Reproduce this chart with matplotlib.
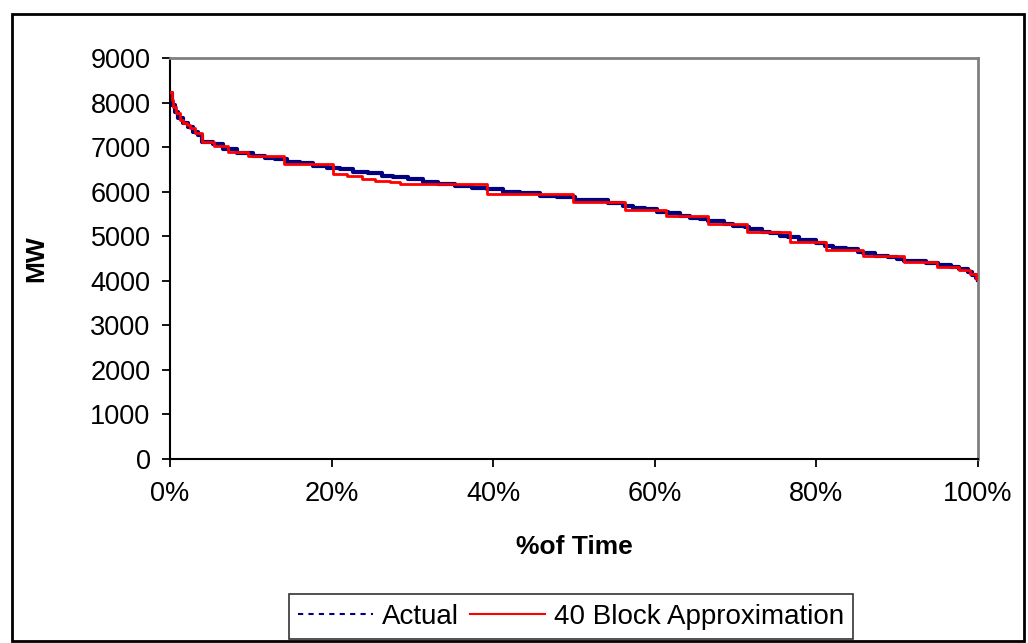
import matplotlib
matplotlib.use("Agg")
import matplotlib.pyplot as plt
from matplotlib.lines import Line2D
from matplotlib.patches import Rectangle
from matplotlib.ticker import FuncFormatter

plt.rcParams.update({
    "font.family": ["Liberation Sans", "DejaVu Sans"],
    "font.size": 19.5,
})

# Actual load duration curve: (start of step in % of time, MW)
actual_pct = [0.0, 0.21, 0.62, 1.03, 1.65, 2.27, 2.88, 3.5, 3.92, 5.36, 6.6, 8.26,
              10.3, 11.76, 13.0, 14.5, 16.1, 17.7, 19.4, 21.0, 22.7, 24.5, 26.2,
              27.6, 29.5, 31.3, 33.2, 35.3, 37.4, 39.2, 41.2, 43.3, 45.8, 47.9,
              50.1, 54.2, 56.0, 57.3, 58.8, 60.3, 61.6, 63.1, 64.4, 65.6, 66.6,
              68.5, 69.7, 71.2, 71.6, 73.3, 74.3, 75.5, 76.5, 77.8, 79.9, 81.1,
              82.1, 83.6, 85.1, 85.8, 87.3, 88.9, 90.0, 90.8, 93.5, 95.0, 96.6,
              97.6, 98.7, 99.3, 99.7, 100.0]
actual_mw = [8213, 7950, 7800, 7651, 7552, 7462, 7350, 7276, 7125, 7066, 6961, 6877,
             6803, 6765, 6729, 6675, 6639, 6585, 6540, 6504, 6450, 6414, 6360,
             6324, 6279, 6225, 6174, 6135, 6090, 6054, 6000, 5964, 5910, 5874,
             5806, 5739, 5685, 5640, 5604, 5550, 5515, 5461, 5416, 5380, 5342,
             5274, 5236, 5202, 5155, 5101, 5065, 5011, 4975, 4914, 4853, 4786,
             4741, 4705, 4651, 4615, 4561, 4525, 4480, 4448, 4390, 4352, 4300,
             4255, 4201, 4127, 4053, 4010]

# Block approximation: (start of block in % of time, MW)
block_pct = [0.0, 0.2, 0.4, 0.8, 1.2, 1.65, 2.1, 2.5, 3.1, 3.9, 5.4, 7.2, 9.7,
             14.1, 20.2, 21.9, 23.8, 25.4, 27.2, 28.5, 39.2, 49.9, 56.3, 61.4,
             66.6, 71.4, 76.7, 81.2, 85.8, 90.8, 94.9, 97.6, 99.0, 99.7, 100.0]
block_mw = [8249, 8063, 7912, 7764, 7613, 7539, 7500, 7426, 7314, 7125, 7028, 6900,
            6803, 6623, 6398, 6353, 6293, 6248, 6212, 6174, 5949, 5762, 5589, 5454,
            5274, 5101, 4862, 4689, 4561, 4419, 4314, 4239, 4149, 4030, 4030]

fig = plt.figure(figsize=(10.28, 6.43), dpi=100)
ax = fig.add_axes([0.1654, 0.2869, 0.7860, 0.6224])

ax.step(actual_pct, actual_mw, where="post", color="#000080", lw=3.0, zorder=2)
ax.step(block_pct, block_mw, where="post", color="#FF0000", lw=2.0, zorder=3)

ax.set_xlim(0, 100)
ax.set_ylim(0, 9000)
ax.set_xticks(range(0, 101, 20))
ax.set_yticks(range(0, 9001, 1000))
ax.xaxis.set_major_formatter(FuncFormatter(lambda v, p: f"{v:.0f}%"))
ax.tick_params(direction="out", length=6, width=1.3, color="black", labelsize=19.5)
ax.tick_params(axis="x", pad=10)
ax.tick_params(axis="y", pad=8)

for side in ("top", "right"):
    ax.spines[side].set_color("#808080")
    ax.spines[side].set_linewidth(2)
for side in ("left", "bottom"):
    ax.spines[side].set_color("black")
    ax.spines[side].set_linewidth(1.5)

ax.set_xlabel("%of Time", fontsize=19, fontweight="bold", labelpad=20)
ax.set_ylabel("MW", fontsize=19, fontweight="bold", labelpad=30)

handles = [
    Line2D([], [], color="#000080", lw=1.5, linestyle=(0, (2.5, 2.5))),
    Line2D([], [], color="#FF0000", lw=1.5),
]
leg = fig.legend(handles, ["Actual", "40 Block Approximation"],
                 loc="upper center", bbox_to_anchor=(0.5555, 0.0762),
                 ncol=2, frameon=True, fancybox=False, fontsize=20,
                 handlelength=2.7, handletextpad=0.29, columnspacing=0.43,
                 borderpad=0.35, borderaxespad=0)
leg.get_frame().set_edgecolor("black")
leg.get_frame().set_linewidth(1.2)

# Outer chart border
fig.patches.append(Rectangle((11.5 / 1028, 2 / 643), 1012 / 1028, 627 / 643,
                             transform=fig.transFigure, fill=False,
                             edgecolor="black", lw=2))

fig.savefig("out.png", dpi=100, facecolor="white")
